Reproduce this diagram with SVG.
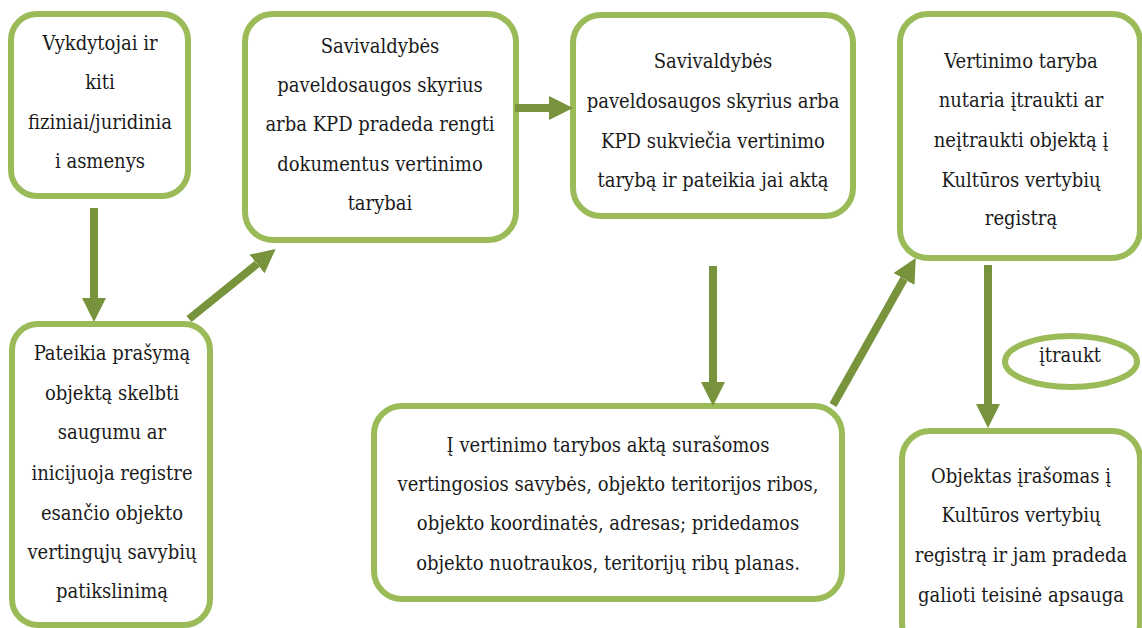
<svg xmlns="http://www.w3.org/2000/svg" width="1142" height="628" viewBox="0 0 1142 628">
<defs>
<style>
.box{fill:#ffffff;stroke:#9BBB59;stroke-width:6}
.t{font-family:"DejaVu Serif Condensed","DejaVu Serif",serif;font-stretch:condensed;font-size:20px;fill:#1a1a1a;text-anchor:middle}
.c{stroke:#77933C;stroke-width:8;fill:none}
</style>
<marker id="ah" markerUnits="userSpaceOnUse" markerWidth="24" markerHeight="24" refX="0" refY="12" orient="auto">
<path d="M0,0 L24,12 L0,24 Z" fill="#77933C"/>
</marker>
</defs>
<rect width="1142" height="628" fill="#ffffff"/>
<g id="n1">
<rect class="box" x="11" y="14" width="177" height="182" rx="26"/>
<text class="t" x="100" y="50">Vykdytojai ir</text>
<text class="t" x="100" y="89">kiti</text>
<text class="t" x="100" y="129">fiziniai/juridinia</text>
<text class="t" x="100" y="168">i asmenys</text>
</g>
<g id="n2">
<rect class="box" x="245" y="14" width="271" height="226" rx="28"/>
<text class="t" x="380" y="53">Savivaldybės</text>
<text class="t" x="380" y="92">paveldosaugos skyrius</text>
<text class="t" x="380" y="131">arba KPD pradeda rengti</text>
<text class="t" x="380" y="171">dokumentus vertinimo</text>
<text class="t" x="380" y="210">tarybai</text>
</g>
<g id="n3">
<rect class="box" x="573" y="15" width="280" height="201" rx="28"/>
<text class="t" x="713" y="68">Savivaldybės</text>
<text class="t" x="713" y="108">paveldosaugos skyrius arba</text>
<text class="t" x="713" y="148">KPD sukviečia vertinimo</text>
<text class="t" x="713" y="187">tarybą ir pateikia jai aktą</text>
</g>
<g id="n4">
<rect class="box" x="900" y="14" width="240" height="244" rx="28"/>
<text class="t" x="1021" y="68">Vertinimo taryba</text>
<text class="t" x="1021" y="107">nutaria įtraukti ar</text>
<text class="t" x="1021" y="147">neįtraukti objektą į</text>
<text class="t" x="1021" y="187">Kultūros vertybių</text>
<text class="t" x="1021" y="225">registrą</text>
</g>
<g id="n5">
<rect class="box" x="12" y="324" width="198" height="301" rx="26"/>
<text class="t" x="112" y="360">Pateikia prašymą</text>
<text class="t" x="112" y="400">objektą skelbti</text>
<text class="t" x="112" y="439">saugumu ar</text>
<text class="t" x="112" y="480">inicijuoja registre</text>
<text class="t" x="112" y="520">esančio objekto</text>
<text class="t" x="112" y="559">vertingųjų savybių</text>
<text class="t" x="112" y="598">patikslinimą</text>
</g>
<g id="n6">
<rect class="box" x="374" y="406" width="468" height="193" rx="28"/>
<text class="t" x="608" y="452">Į vertinimo tarybos aktą surašomos</text>
<text class="t" x="608" y="491">vertingosios savybės, objekto teritorijos ribos,</text>
<text class="t" x="608" y="530">objekto koordinatės, adresas; pridedamos</text>
<text class="t" x="608" y="570">objekto nuotraukos, teritorijų ribų planas.</text>
</g>
<g id="n7">
<rect class="box" x="902" y="431" width="238" height="220" rx="28"/>
<text class="t" x="1021" y="483">Objektas įrašomas į</text>
<text class="t" x="1021" y="522">Kultūros vertybių</text>
<text class="t" x="1021" y="562">registrą ir jam pradeda</text>
<text class="t" x="1021" y="602">galioti teisinė apsauga</text>
</g>
<g id="n8">
<ellipse class="box" cx="1071" cy="361.5" rx="66" ry="25.5"/>
<text class="t" x="1070" y="362">įtraukt</text>
</g>
<g id="connectors">
<line class="c" x1="94" y1="208" x2="94" y2="298" marker-end="url(#ah)"/>
<line class="c" x1="189" y1="319" x2="257" y2="264" marker-end="url(#ah)"/>
<line class="c" x1="515" y1="108" x2="549" y2="108" marker-end="url(#ah)"/>
<line class="c" x1="713" y1="266" x2="713" y2="382" marker-end="url(#ah)"/>
<line class="c" x1="833" y1="405" x2="904" y2="279" marker-end="url(#ah)"/>
<line class="c" x1="988" y1="265" x2="988" y2="404" marker-end="url(#ah)"/>
</g>
</svg>
